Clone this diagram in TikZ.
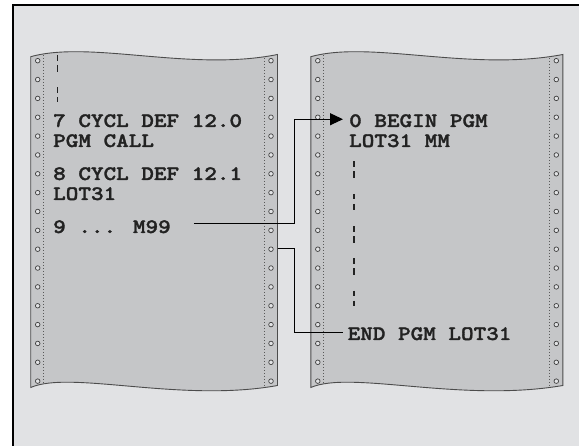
\documentclass[tikz,border=0pt]{standalone}
\usepackage{fontspec}
\newfontfamily\codefont{lmmonolt10-bold.otf}[FakeStretch=1.17,FakeBold=1.6]
\usetikzlibrary{arrows.meta}

\definecolor{panel}{HTML}{E1E2E4}
\definecolor{sheet}{HTML}{C5C6C8}
\definecolor{ink}{HTML}{222222}

% one sheet of fan-fold paper: #1 left edge, #2 width
\newcommand\tractorpaper[2]{%
  \begin{scope}[shift={(#1,0)}]
    \fill[sheet] (0,56.7) .. controls (60,40) and (160,72) .. (#2,54.5) -- (#2,385.5)
      .. controls (150,403) and (40,370) .. (0,387.5) -- cycle;
    \begin{scope}
      \clip (0,56.7) .. controls (60,40) and (160,72) .. (#2,54.5) -- (#2,385.5)
        .. controls (150,403) and (40,370) .. (0,387.5) -- cycle;
      \draw[perfline] (13,40) -- (13,400);
      \draw[perfline] (#2-13,40) -- (#2-13,400);
    \end{scope}
    \foreach \k in {0,...,17} {
      \draw[hole] (7,60.7+18.85*\k) circle[radius=2.3];
      \draw[hole] (#2-6.5,60.7+18.85*\k) circle[radius=2.3];
    }
    \draw[paperedge] (0,56.7) .. controls (60,40) and (160,72) .. (#2,54.5) -- (#2,385.5)
      .. controls (150,403) and (40,370) .. (0,387.5) -- cycle;
  \end{scope}}

\begin{document}
\begin{tikzpicture}[x=1pt,y=-1pt,
    paperedge/.style={draw=black!70,line width=0.9pt},
    perfline/.style={draw=black!65,line width=0.8pt,dash pattern=on 1pt off 2pt},
    hole/.style={draw=black!75,fill=panel,line width=0.7pt},
    gap/.style={draw=ink,line width=1.3pt,dash pattern=on 5.7pt off 4.3pt on 6.7pt off 15.6pt},
    listing/.style={anchor=base west,inner sep=0pt,text=ink,
      font=\codefont\fontsize{20.5}{24}\selectfont},
    link/.style={draw=black,line width=1.1pt}]
  \useasboundingbox (0,0) rectangle (579,446);
  \fill[white] (0,0) rectangle (579,446);
  \fill[panel] (13,5) rectangle (579,446);
  \draw[black,line width=1.2pt] (13,446) -- (13,5) -- (579,5);

  \tractorpaper{30.7}{246.8}
  \tractorpaper{310.8}{252}

  % calling program
  \draw[gap] (57.3,55) -- (57.3,102);
  \node[listing] (l7) at (53,127) {7 CYCL DEF 12.0};
  \node[listing] (lcall) at (53,147) {PGM CALL};
  \node[listing] (l8) at (53,180) {8 CYCL DEF 12.1};
  \node[listing] (llot) at (53,200) {LOT31};
  \node[listing] (l9) at (53,233) {9 ... M99};

  % called program
  \node[listing] (r0) at (349,127) {0 BEGIN PGM};
  \node[listing] (rlot) at (349,147) {LOT31 MM};
  \draw[gap] (354,161.5) -- (354,306);
  \node[listing] (rend) at (347.5,340) {END PGM LOT31};

  \coordinate (jog) at (294.7,0);
  \coordinate (back) at (277.7,248.8);
  \coordinate (out) at ([xshift=23pt,yshift=3pt]l9.east);
  \coordinate (in) at ([xshift=-6pt,yshift=1.5pt]r0.west);
  \coordinate (endin) at ([xshift=-5pt,yshift=1pt]rend.west);
  \draw[link,-{Triangle[length=13pt,width=12pt]}]
    (out) -- (out -| jog) -- (in -| jog) -- (in);
  \draw[link] (back) -- (back -| jog) -- (endin -| jog) -- (endin);
\end{tikzpicture}
\end{document}
